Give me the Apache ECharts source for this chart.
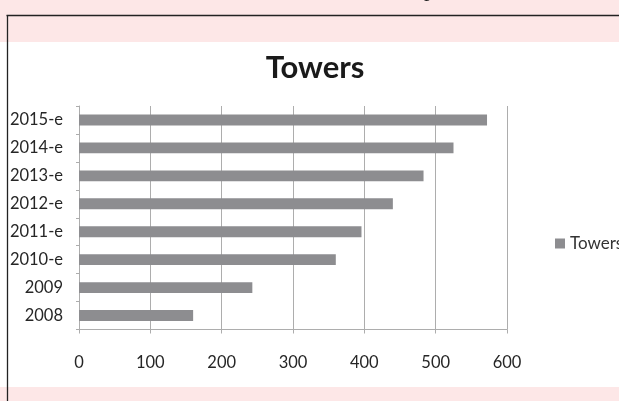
<!DOCTYPE html>
<html>
<head>
<meta charset="utf-8">
<script src="https://cdn.jsdelivr.net/npm/echarts@6/dist/echarts.min.js"></script>
<style>
html,body{margin:0;padding:0;background:#fff;}
#chart{width:619px;height:401px;}
</style>
</head>
<body>
<div id="chart"></div>
<script>
const categories = ['2008', '2009', '2010-e', '2011-e', '2012-e', '2013-e', '2014-e', '2015-e'];
const towers = [160, 243, 360, 396, 440, 483, 525, 572];
const xTicks = { min: 0, max: 600, interval: 100 };
const seriesName = 'Towers';
const titleText = 'Towers';

const gridColor = '#ADADAD';
const pink = '#FDE7E7';
const font = 'Lato';

const chart = echarts.init(document.getElementById('chart'));
chart.setOption({
  backgroundColor: '#ffffff',
  animation: false,
  title: {
    text: titleText,
    left: 310,
    top: 47,
    textAlign: 'center',
    textStyle: { fontFamily: font, fontSize: 31, fontWeight: 'bold', color: '#1a1a1a' }
  },
  legend: {
    data: [seriesName],
    left: 550,
    top: 230,
    icon: 'rect',
    itemWidth: 10,
    itemHeight: 10,
    itemGap: 6,
    textStyle: { fontFamily: font, fontSize: 17, color: '#333333', lineHeight: 17 }
  },
  grid: { left: 79, right: 112, top: 106, bottom: 71.5, containLabel: false },
  xAxis: {
    type: 'value',
    min: xTicks.min,
    max: xTicks.max,
    interval: xTicks.interval,
    axisLine: { show: true, lineStyle: { color: gridColor, width: 1 } },
    axisTick: { show: true, length: 4, lineStyle: { color: gridColor } },
    splitLine: { show: true, lineStyle: { color: gridColor, width: 1 } },
    axisLabel: { fontFamily: font, fontSize: 16.5, color: '#262626', margin: 25 }
  },
  yAxis: {
    type: 'category',
    data: categories,
    axisLine: { show: true, lineStyle: { color: gridColor, width: 1 } },
    axisTick: { show: true, length: 3, alignWithLabel: false, lineStyle: { color: gridColor } },
    axisLabel: { fontFamily: font, fontSize: 16.5, color: '#262626', margin: 16 }
  },
  series: [{
    name: seriesName,
    type: 'bar',
    data: towers,
    barWidth: '39%',
    itemStyle: { color: '#8D8D90' }
  }],
  graphic: [
    { type: 'rect', z: -10, shape: { x: 0, y: 0, width: 619, height: 42 }, style: { fill: pink }, silent: true },
    { type: 'rect', z: -10, shape: { x: 0, y: 387, width: 619, height: 14 }, style: { fill: pink }, silent: true },
    { type: 'line', z: 10, shape: { x1: 6.5, y1: 15.5, x2: 619, y2: 15.5 }, style: { stroke: '#222', lineWidth: 1.6 }, silent: true },
    { type: 'line', z: 10, shape: { x1: 7.5, y1: 15, x2: 7.5, y2: 401 }, style: { stroke: '#222', lineWidth: 1.3 }, silent: true },
    { type: 'text', z: 10, x: 424, y: -10, style: { text: 'p', fontFamily: 'Liberation Serif', fontSize: 22, fill: '#222', textVerticalAlign: 'middle' }, silent: true }
  ]
});
</script>
</body>
</html>
